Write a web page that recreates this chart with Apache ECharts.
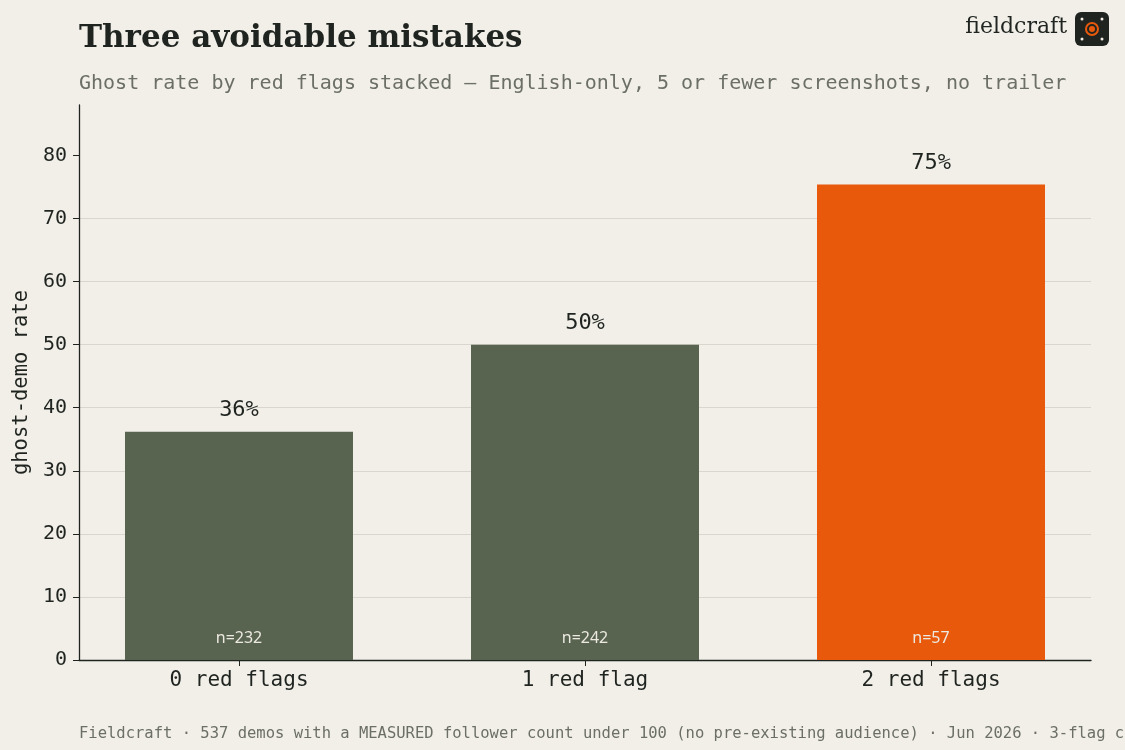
<!DOCTYPE html>
<html lang="en">
  <head>
    <meta charset="UTF-8" />
    <title>Three avoidable mistakes</title>
    <script src="https://cdn.jsdelivr.net/npm/echarts@6.0.0/dist/echarts.min.js"></script>
    <style>
      html, body { margin: 0; padding: 0; background: #f2efe8; }
    </style>
  </head>

  <body>
    <div id="main" style="width: 1125px; height: 750px"></div>

    <script type="text/javascript">
      // chart data
      const categories = ["0 red flags", "1 red flag", "2 red flags"];
      const ghostRates = [36.2, 50.0, 75.4];
      const sampleSizes = [232, 242, 57];
      const yTicks = [0, 10, 20, 30, 40, 50, 60, 70, 80];
      const xTicks = [0, 1, 2];

      const MONO = "'DejaVu Sans Mono', 'Liberation Mono', monospace";
      const SERIF = "'DejaVu Serif', 'Liberation Serif', serif";
      const INK = "#1f2420";
      const GREEN = "#586350";
      const ORANGE = "#e8590c";
      const BAR_W = 228;

      let myChart = echarts.init(document.getElementById("main"));

      // bars sit on a numeric x scale (0,1,2) padded like a plotting library would
      const barPoints = ghostRates.map((v, i) => ({
        value: [i, v],
        itemStyle: { color: i === ghostRates.length - 1 ? ORANGE : GREEN },
      }));

      let options = {
        backgroundColor: "#f2efe8",
        animation: false,
        title: [
          {
            text: "Three avoidable mistakes",
            left: 74,
            top: 18,
            textStyle: { fontFamily: SERIF, fontSize: 31, fontWeight: 600, color: INK },
          },
          {
            text: "Ghost rate by red flags stacked — English-only, 5 or fewer screenshots, no trailer",
            left: 74,
            top: 69,
            textStyle: { fontFamily: MONO, fontSize: 20, fontWeight: "normal", color: "#6b6f66" },
          },
          {
            text: "Fieldcraft · 537 demos with a MEASURED follower count under 100 (no pre-existing audience) · Jun 2026 · 3-flag cohort too small to chart",
            left: 74,
            top: 721,
            textStyle: { fontFamily: MONO, fontSize: 15.5, fontWeight: "normal", color: "#6b6f66" },
          },
        ],
        graphic: [
          {
            type: "text",
            right: 58,
            top: 16,
            style: { text: "fieldcraft", font: "22px " + SERIF, fill: INK },
          },
          {
            type: "group",
            left: 1075,
            top: 12,
            children: [
              { type: "rect", shape: { x: 0, y: 0, width: 34, height: 34, r: 6 }, style: { fill: INK } },
              { type: "circle", shape: { cx: 17, cy: 17, r: 6 }, style: { fill: "none", stroke: ORANGE, lineWidth: 2 } },
              { type: "circle", shape: { cx: 17, cy: 17, r: 3 }, style: { fill: ORANGE } },
              { type: "circle", shape: { cx: 7, cy: 7, r: 1.5 }, style: { fill: "#f2efe8" } },
              { type: "circle", shape: { cx: 27, cy: 7, r: 1.5 }, style: { fill: "#f2efe8" } },
              { type: "circle", shape: { cx: 7, cy: 27, r: 1.5 }, style: { fill: "#f2efe8" } },
              { type: "circle", shape: { cx: 27, cy: 27, r: 1.5 }, style: { fill: "#f2efe8" } },
            ],
          },
        ],
        grid: { left: 79, right: 34, top: 105, bottom: 90, outerBoundsMode: "none" },
        xAxis: {
          type: "value",
          min: -0.4624,
          max: 2.4624,
          axisLine: { show: true, onZero: false, lineStyle: { color: INK, width: 1.3 } },
          axisTick: { show: true, length: 6, lineStyle: { color: INK }, customValues: xTicks },
          axisLabel: {
            fontFamily: MONO,
            fontSize: 21,
            color: INK,
            margin: 10,
            customValues: xTicks,
            formatter: (v) => categories[Math.round(v)],
          },
          splitLine: { show: false },
        },
        yAxis: {
          type: "value",
          min: 0,
          max: 88,
          interval: 10,
          name: "ghost-demo rate",
          nameLocation: "middle",
          nameGap: 45,
          nameTextStyle: { fontFamily: MONO, fontSize: 20.5, color: INK },
          axisLine: { show: true, onZero: false, lineStyle: { color: INK, width: 1.3 } },
          axisTick: { show: true, length: 6, lineStyle: { color: INK }, customValues: yTicks },
          axisLabel: {
            fontFamily: MONO,
            fontSize: 20,
            color: INK,
            margin: 12,
            customValues: yTicks,
          },
          splitLine: { show: true, showMaxLine: false, lineStyle: { color: "#d9d6cd", width: 1 } },
        },
        series: [
          {
            name: "ghost-demo rate",
            type: "bar",
            barWidth: BAR_W,
            data: barPoints,
            label: {
              show: true,
              position: "top",
              distance: 10,
              fontFamily: MONO,
              fontSize: 22,
              color: INK,
              formatter: (p) => Math.round(p.value[1]) + "%",
            },
          },
          {
            name: "n",
            type: "bar",
            barWidth: BAR_W,
            barGap: "-100%",
            silent: true,
            data: ghostRates.map((v, i) => [i, v]),
            itemStyle: { color: "rgba(0,0,0,0)" },
            label: {
              show: true,
              position: "insideBottom",
              distance: 14,
              fontFamily: "'Noto Sans', 'DejaVu Sans', sans-serif",
              fontSize: 16,
              color: "#ece9e0",
              formatter: (p) => "n=" + sampleSizes[p.dataIndex],
            },
          },
        ],
      };

      myChart.setOption(options);
    </script>
  </body>
</html>
